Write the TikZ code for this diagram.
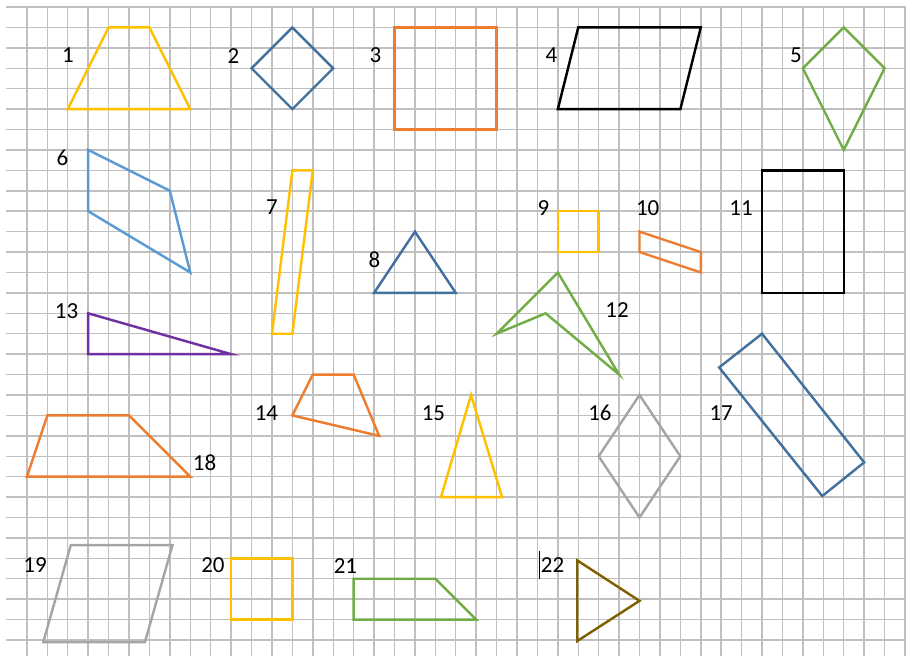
\documentclass[tikz,border=0pt]{standalone}
\usepackage{fontspec}
\setmainfont{Carlito}

\definecolor{gridcolor}{RGB}{191,191,191}
\definecolor{figgold}{RGB}{255,192,0}
\definecolor{figblue}{RGB}{65,113,156}
\definecolor{figlightblue}{RGB}{91,155,213}
\definecolor{figorange}{RGB}{237,125,49}
\definecolor{figgreen}{RGB}{112,173,71}
\definecolor{figgray}{RGB}{165,165,165}
\definecolor{figpurple}{RGB}{112,48,160}
\definecolor{figolive}{RGB}{127,96,0}

\newlength{\du}
\setlength{\du}{0.5cm}

\tikzset{
  gridline/.style={gridcolor, line width=1pt},
  fig/.style={line width=1.7pt},
  lbl/.style={font=\fontsize{16}{18}\selectfont, inner sep=0pt}
}

\begin{document}
\begin{tikzpicture}[x=\du,y=-\du]
\useasboundingbox (-0.318,-0.343) rectangle (44.05,31.78);
% squared paper
\foreach \r in {0,...,31}
  \draw[gridline] (0,\r) -- (44.05,\r);
\foreach \c in {1,...,44}
  \draw[gridline] (\c,0) -- (\c,31.78);

% figures
\draw[fig,figgold] (5,1) -- (7,1) -- (9,5) -- (3,5) -- cycle;
\draw[fig,figblue] (12,3) -- (14,1) -- (16,3) -- (14,5) -- cycle;
\draw[fig,figorange] (19,1) rectangle (24,6);
\draw[fig,black] (28,1) -- (34,1) -- (33,5) -- (27,5) -- cycle;
\draw[fig,figgreen] (41,1) -- (43,3) -- (41,7) -- (39,3) -- cycle;
\draw[fig,figlightblue] (4,7) -- (8,9) -- (9,13) -- (4,10) -- cycle;
\draw[fig,figgold] (14,8) -- (15,8) -- (14,16) -- (13,16) -- cycle;
\draw[fig,figblue] (20,11) -- (22,14) -- (18,14) -- cycle;
\draw[fig,figgold] (27,10) rectangle (29,12);
\draw[fig,figorange] (31,11) -- (34,12) -- (34,13) -- (31,12) -- cycle;
\draw[fig,black] (37,8) rectangle (41,14);
\draw[fig,figgreen] (27,13) -- (30,18) -- (26.4,15) -- (24,16) -- cycle;
\draw[fig,figpurple] (4,15) -- (11,17) -- (4,17) -- cycle;
\draw[fig,figorange] (15,18) -- (17,18) -- (18.25,21) -- (14,20) -- cycle;
\draw[fig,figgold] (22.75,19) -- (24.27,24) -- (21.28,24) -- cycle;
\draw[fig,figgray] (31,19) -- (33,22) -- (31,25) -- (29,22) -- cycle;
\draw[fig,figblue] (37,16) -- (42,22.3) -- (39.95,23.95) -- (34.9,17.65) -- cycle;
\draw[fig,figorange] (2,20) -- (6,20) -- (9,23) -- (1,23) -- cycle;
\draw[fig,figgray] (3.15,26.35) -- (8.13,26.35) -- (6.78,31.1) -- (1.8,31.1) -- cycle;
\draw[fig,figgold] (11,27) rectangle (14,30);
\draw[fig,figgreen] (17,28) -- (21,28) -- (23,30) -- (17,30) -- cycle;
\draw[fig,figolive] (27.95,27.1) -- (31,29.08) -- (27.95,31.05) -- cycle;

% numbers
\node[lbl] (n1) at (3.01,2.38) {1};
\node[lbl] (n2) at (11.12,2.38) {2};
\node[lbl] (n3) at (18.07,2.38) {3};
\node[lbl] (n4) at (26.69,2.38) {4};
\node[lbl] (n5) at (38.66,2.38) {5};
\node[lbl] (n6) at (2.74,7.37) {6};
\node[lbl] (n7) at (13.0,9.8) {7};
\node[lbl] (n8) at (18.02,12.37) {8};
\node[lbl] (n9) at (26.3,9.85) {9};
\node[lbl] (n10) at (31.4,9.85) {10};
\node[lbl] (n11) at (35.97,9.85) {11};
\node[lbl] (n12) at (29.9,14.86) {12};
\node[lbl] (n13) at (2.94,14.89) {13};
\node[lbl] (n14) at (12.73,19.88) {14};
\node[lbl] (n15) at (20.91,19.88) {15};
\node[lbl] (n16) at (29.06,19.88) {16};
\node[lbl] (n17) at (35.0,19.88) {17};
\node[lbl] (n18) at (9.7,22.33) {18};
\node[lbl] (n19) at (1.4,27.35) {19};
\node[lbl] (n20) at (10.11,27.35) {20};
\node[lbl] (n21) at (16.6,27.37) {21};
\node[lbl] (n22) at (26.74,27.35) {22};
% text cursor
\draw[line width=0.8pt] (26.09,26.64) -- (26.09,28.0);
\end{tikzpicture}
\end{document}
